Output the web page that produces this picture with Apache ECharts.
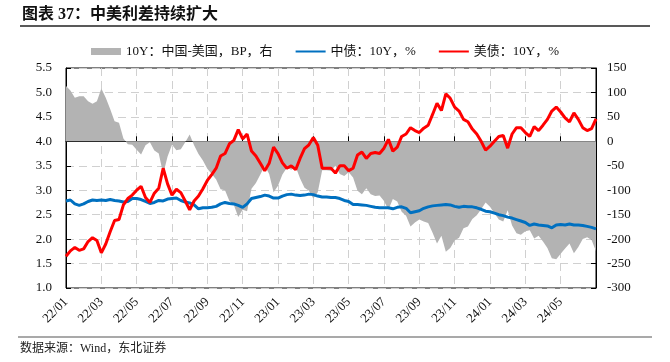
<!DOCTYPE html>
<html>
<head>
<meta charset="utf-8">
<script src="https://cdn.jsdelivr.net/npm/echarts@6/dist/echarts.min.js"></script>
<style>
html,body{margin:0;padding:0;background:#fff;}
#c{width:670px;height:362px;}
</style>
</head>
<body>
<div id="c"></div>
<script>
// Weekly observations from 2022/01 to 2024/07 (4 per month)
const startYear = 22, startMonth = 1, pointsPerMonth = 4, months = 30;
const titleText = '图表 37：中美利差持续扩大';
const sourceText = '数据来源：Wind，东北证券';
const seriesNames = ['10Y：中国-美国，BP，右', '中债：10Y，%', '美债：10Y，%'];

// 中债 10Y (%)
const cn10y = [
  2.78,2.80,2.72,2.69, 2.72,2.77,2.80,2.79, 2.80,2.79,2.81,2.79, 2.78,2.76,2.77,2.83,
  2.83,2.81,2.77,2.73, 2.75,2.79,2.78,2.82, 2.83,2.84,2.79,2.76, 2.74,2.70,2.62,2.64,
  2.64,2.65,2.67,2.72, 2.75,2.73,2.72,2.69, 2.65,2.72,2.83,2.85, 2.87,2.90,2.88,2.84,
  2.84,2.88,2.91,2.92, 2.90,2.89,2.90,2.92, 2.91,2.88,2.86,2.86, 2.85,2.85,2.83,2.79,
  2.77,2.71,2.71,2.70, 2.69,2.67,2.65,2.64, 2.64,2.64,2.62,2.65, 2.66,2.63,2.54,2.56,
  2.58,2.63,2.66,2.68, 2.69,2.70,2.71,2.70, 2.67,2.65,2.67,2.66, 2.66,2.64,2.61,2.57,
  2.56,2.53,2.50,2.48, 2.45,2.43,2.40,2.37, 2.34,2.28,2.31,2.29, 2.28,2.27,2.23,2.29,
  2.30,2.29,2.31,2.29, 2.29,2.28,2.26,2.24, 2.21
];
// 美债 10Y (%)
const us10y = [
  1.65,1.76,1.83,1.77, 1.80,1.95,2.03,1.97, 1.72,1.90,2.15,2.38, 2.40,2.70,2.83,2.90,
  3.00,3.08,2.85,2.75, 2.94,3.04,3.45,3.13, 2.90,3.02,2.95,2.78, 2.60,2.78,2.88,3.03,
  3.20,3.32,3.45,3.70, 3.75,3.95,4.02,4.24, 4.05,4.15,3.80,3.70, 3.55,3.40,3.55,3.88,
  3.75,3.56,3.45,3.50, 3.42,3.65,3.85,3.93, 4.08,3.92,3.45,3.45, 3.45,3.35,3.50,3.50,
  3.40,3.45,3.72,3.78, 3.65,3.75,3.77,3.75, 3.86,4.04,3.80,3.88, 4.10,4.15,4.28,4.22,
  4.18,4.27,4.33,4.55, 4.78,4.63,4.97,4.88, 4.70,4.62,4.45,4.40, 4.25,4.15,4.00,3.82,
  3.90,4.00,4.10,4.12, 3.86,4.15,4.28,4.28, 4.18,4.10,4.30,4.22, 4.33,4.45,4.62,4.70,
  4.60,4.48,4.40,4.58, 4.45,4.28,4.22,4.26, 4.46
];
// 10Y 中国-美国 (BP)
const spreadBp = [
  113,104,89,92, 92,82,77,82, 108,89,66,41, 38,6,-6,-7,
  -17,-27,-8,-2, -19,-25,-67,-31, -7,-18,-16,-2, 14,-8,-26,-39,
  -56,-67,-78,-98, -100,-122,-130,-155, -140,-143,-97,-85, -68,-50,-67,-104,
  -91,-68,-54,-58, -52,-76,-95,-101, -117,-104,-59,-59, -60,-50,-67,-71,
  -63,-74,-101,-108, -96,-108,-112,-111, -122,-140,-118,-123, -144,-152,-174,-166,
  -160,-164,-167,-187, -209,-193,-226,-218, -203,-197,-178,-174, -159,-151,-139,-125,
  -134,-147,-160,-164, -141,-172,-188,-191, -184,-182,-199,-193, -205,-218,-239,-241,
  -230,-219,-209,-229, -216,-200,-196,-202, -225
];

const categories = [];
for (let i = 0; i <= months * pointsPerMonth; i++) {
  const mIdx = Math.floor(i / pointsPerMonth);
  const y = startYear + Math.floor((startMonth - 1 + mIdx) / 12);
  const m = (startMonth - 1 + mIdx) % 12 + 1;
  const base = y + '/' + (m < 10 ? '0' + m : m);
  categories.push(i % pointsPerMonth === 0 ? base : base + '#' + (i % pointsPerMonth));
}
const labelEvery = 2 * pointsPerMonth;
const isTick = (idx) => idx % labelEvery === 0;

const serif = '"Liberation Serif","Times New Roman","Noto Sans CJK SC",serif';
const chart = echarts.init(document.getElementById('c'), null, {renderer: 'canvas'});
chart.setOption({
  animation: false,
  backgroundColor: '#fff',
  textStyle: {fontFamily: serif},
  graphic: [
    {type: 'text', left: 22, top: 7, style: {text: titleText, font: 'bold 16px ' + serif, fill: '#111'}},
    {type: 'line', shape: {x1: 20, y1: 26, x2: 650, y2: 26}, style: {stroke: '#222', lineWidth: 1.5}},
    {type: 'line', shape: {x1: 18, y1: 337, x2: 652, y2: 337}, style: {stroke: '#555', lineWidth: 1.2}},
    {type: 'text', left: 20, top: 343, style: {text: sourceText, font: '12px ' + serif, fill: '#222'}}
  ],
  legend: {
    left: 86, top: 40, itemGap: 22, itemWidth: 30, itemHeight: 7,
    textStyle: {fontFamily: serif, fontSize: 13, color: '#111'},
    data: [
      {name: seriesNames[0], icon: 'rect'},
      {name: seriesNames[1], itemStyle: {opacity: 0}},
      {name: seriesNames[2], itemStyle: {opacity: 0}}
    ]
  },
  grid: {left: 66, right: 74, top: 68, bottom: 74, show: true, borderColor: '#000', borderWidth: 1},
  xAxis: {
    type: 'category', data: categories, boundaryGap: false,
    axisLine: {lineStyle: {color: '#000', width: 1}},
    axisTick: {inside: true, length: 5, interval: (idx) => isTick(idx), lineStyle: {color: '#000'}},
    axisLabel: {
      rotate: 45, margin: 12, fontSize: 13, color: '#111', fontFamily: serif,
      interval: (idx) => isTick(idx) && idx < categories.length - 1
    },
    splitLine: {show: true, interval: (idx) => isTick(idx) && idx > 0 && idx < categories.length - 1,
      lineStyle: {color: '#D0D0D0', type: [8, 5], width: 1}}
  },
  yAxis: [
    {
      type: 'value', min: 1, max: 5.5, interval: 0.5,
      axisLine: {show: true, lineStyle: {color: '#000'}},
      axisTick: {show: true, inside: true, length: 5, lineStyle: {color: '#000'}},
      axisLabel: {formatter: (v) => v.toFixed(1), fontSize: 13, color: '#111', margin: 14, fontFamily: serif},
      splitLine: {show: true, lineStyle: {color: '#D0D0D0', type: [8, 5], width: 1}}
    },
    {
      type: 'value', min: -300, max: 150, interval: 50,
      axisLine: {show: true, lineStyle: {color: '#000'}},
      axisTick: {show: true, inside: true, length: 5, lineStyle: {color: '#000'}},
      axisLabel: {fontSize: 13, color: '#111', margin: 11, fontFamily: serif},
      splitLine: {show: false}
    }
  ],
  series: [
    {
      name: seriesNames[0], type: 'line', yAxisIndex: 1, data: spreadBp,
      symbol: 'none', color: '#B3B3B3',
      lineStyle: {width: 0, color: '#B3B3B3'},
      areaStyle: {color: '#B3B3B3', opacity: 1},
      z: 1
    },
    {
      name: seriesNames[1], type: 'line', yAxisIndex: 0, data: cn10y,
      symbol: 'none', color: '#0070C0',
      lineStyle: {width: 3, color: '#0070C0'}, z: 3
    },
    {
      name: seriesNames[2], type: 'line', yAxisIndex: 0, data: us10y,
      symbol: 'none', color: '#FF0000',
      lineStyle: {width: 3, color: '#FF0000'}, z: 4
    }
  ]
});
</script>
</body>
</html>
